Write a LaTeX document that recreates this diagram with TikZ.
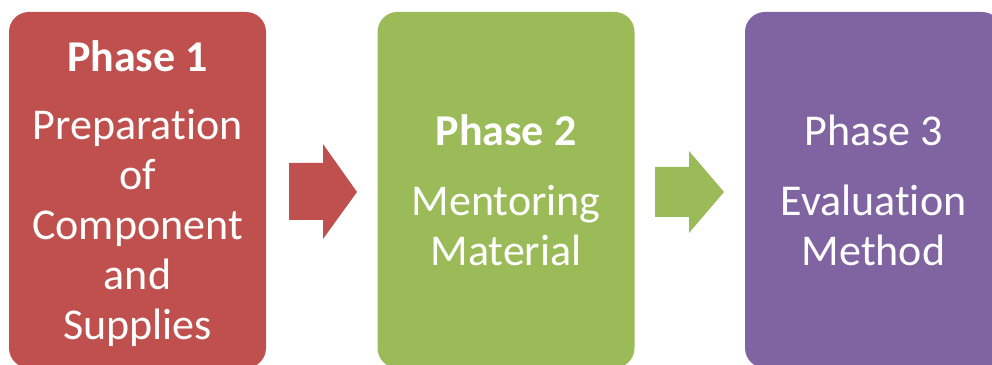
\documentclass[tikz,border=0pt]{standalone}
\usepackage{fontspec}
\setmainfont[Ligatures=NoCommon]{Carlito}
\definecolor{phasered}{HTML}{C0504D}
\definecolor{phasegreen}{HTML}{9BBB59}
\definecolor{phasepurple}{HTML}{8064A2}
\begin{document}
\begin{tikzpicture}[
		x=1pt,y=1pt,
		phasebox/.style={rounded corners=20pt, minimum width=257pt, minimum height=356pt,
			text=white, align=center, inner sep=0pt,
			font=\fontsize{44}{50}\selectfont},
	]
	\clip (0,0) rectangle (992,364);
	\useasboundingbox (0,0) rectangle (992,364);

	\node[phasebox,fill=phasered] (phase1) at (137.5,174) {};
	\node[phasebox,minimum height=0pt] (phase1text) at ([yshift=-4pt]phase1.center) {\textbf{Phase 1}\\[18pt]Preparation\\of\\Component\\and\\Supplies};
	\node[phasebox,fill=phasegreen] (phase2) at (506,174) {\textbf{Phase 2}\\[20pt]Mentoring\\Material};
	\node[phasebox,fill=phasepurple] (phase3) at (873.5,174) {Phase 3\\[20pt]Evaluation\\Method};

	% block arrows between the phases
	\fill[phasered] (289,201) -- (323,201) -- (323,220) -- (357,172) -- (323,125) -- (323,144) -- (289,144) -- cycle;
	\fill[phasegreen] (655,197) -- (689,197) -- (689,213) -- (724,172) -- (689,131) -- (689,147) -- (655,147) -- cycle;

\end{tikzpicture}
\end{document}
